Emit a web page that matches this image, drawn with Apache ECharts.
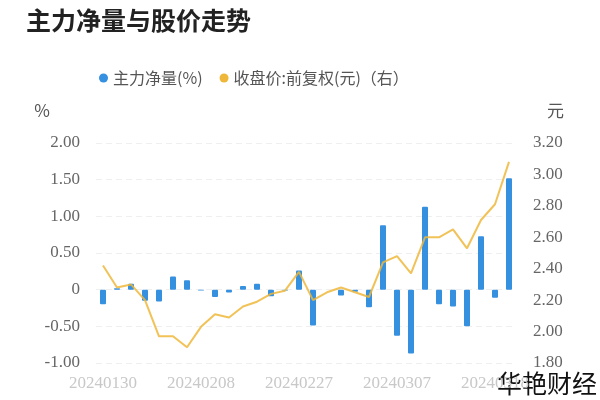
<!DOCTYPE html>
<html>
<head>
<meta charset="utf-8">
<script src="https://cdn.jsdelivr.net/npm/echarts@6/dist/echarts.min.js"></script>
<style>html,body{margin:0;padding:0;background:#fff}#c{width:600px;height:400px}</style>
</head>
<body>
<div id="c"></div>
<script>
const dates = ['20240130','20240131','20240201','20240202','20240205','20240206','20240207','20240208',
  '20240219','20240220','20240221','20240222','20240223','20240226','20240227','20240228','20240229',
  '20240301','20240304','20240305','20240306','20240307','20240308','20240311','20240312','20240313',
  '20240314','20240315','20240318','20240319'];
const netFlow = [-0.20,0.02,0.08,-0.15,-0.16,0.18,0.13,-0.01,-0.10,-0.04,0.05,0.08,-0.09,-0.01,0.26,
  -0.49,0.00,-0.08,-0.03,-0.24,0.88,-0.63,-0.87,1.13,-0.20,-0.23,-0.50,0.73,-0.11,1.52];
const closePrice = [2.42,2.28,2.30,2.20,1.97,1.97,1.90,2.03,2.11,2.09,2.16,2.19,2.24,2.26,2.38,
  2.20,2.25,2.28,2.25,2.22,2.44,2.48,2.37,2.60,2.60,2.65,2.53,2.71,2.81,3.08];
const seriesNames = ['主力净量(%)', '收盘价:前复权(元)（右）'];

const chart = echarts.init(document.getElementById('c'), null, {renderer:'canvas'});
const numFont = 'Liberation Serif';
const cjk = '"Noto Sans CJK SC", "Noto Sans", sans-serif';
chart.setOption({
  animation: false,
  backgroundColor: '#fff',
  title: {
    text: '主力净量与股价走势', left: 21, top: 3,
    textStyle: {fontSize: 25, fontWeight: 'bold', color: '#222', fontFamily: cjk}
  },
  legend: {
    left: 94, top: 65, icon: 'circle', itemWidth: 9, itemHeight: 9, itemGap: 17,
    textStyle: {fontSize: 16, color: '#555', fontFamily: cjk},
    data: seriesNames
  },
  grid: {left: 96, right: 84, top: 143, bottom: 37},
  xAxis: {
    type: 'category', data: dates, boundaryGap: true,
    axisLine: {show: false}, axisTick: {show: false},
    axisLabel: {interval: 6, color: '#c8c8c8', fontSize: 17, fontFamily: numFont, margin: 12}
  },
  yAxis: [{
    type: 'value', min: -1, max: 2, interval: 0.5,
    name: '%', nameLocation: 'end', nameGap: 24,
    nameTextStyle: {color: '#555', fontSize: 17, fontFamily: cjk, align: 'right', padding: [0, 46, 0, 0]},
    axisLine: {show: false}, axisTick: {show: false},
    axisLabel: {color: '#666', fontSize: 17, fontFamily: numFont, margin: 16,
      formatter: v => v === 0 ? '0' : v.toFixed(2)},
    splitLine: {lineStyle: {color: '#efefef', type: [6, 4]}}
  }, {
    type: 'value', min: 1.8, max: 3.2, interval: 0.2,
    name: '元', nameLocation: 'end', nameGap: 24,
    nameTextStyle: {color: '#555', fontSize: 17, fontFamily: cjk, align: 'left', padding: [0, 0, 0, 31]},
    axisLine: {show: false}, axisTick: {show: false},
    axisLabel: {color: '#666', fontSize: 17, fontFamily: numFont, margin: 17,
      formatter: v => v.toFixed(2)},
    splitLine: {show: false}
  }],
  series: [{
    name: seriesNames[0], type: 'bar', data: netFlow, barWidth: 6,
    itemStyle: {color: '#3590e0', borderRadius: 1}
  }, {
    name: seriesNames[1], type: 'line', yAxisIndex: 1, data: closePrice,
    symbol: 'none', lineStyle: {color: '#efb73a', width: 2, opacity: 0.85},
    itemStyle: {color: '#efb73a'}
  }],
  graphic: [{
    type: 'text', right: 3, bottom: 4,
    style: {text: '华艳财经', fontSize: 25, fill: '#111', fontFamily: cjk}
  }]
});
</script>
</body>
</html>
